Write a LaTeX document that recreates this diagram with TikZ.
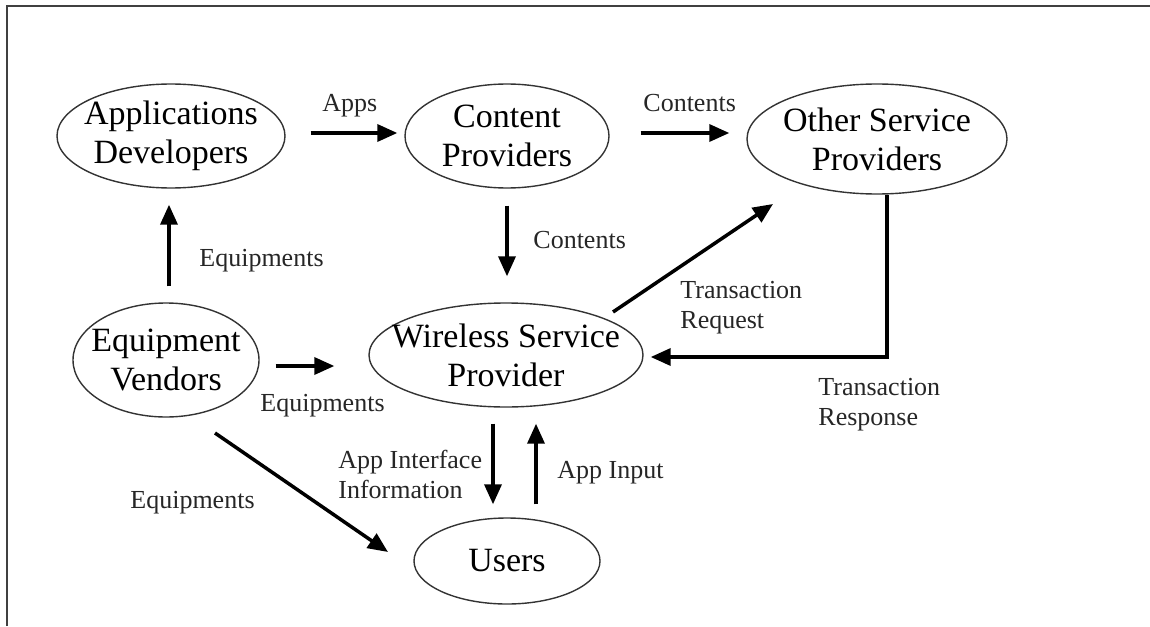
\documentclass[tikz,border=0pt]{standalone}
\usepackage{fontspec}
\setmainfont{Liberation Serif}
\usetikzlibrary{shapes.geometric,arrows.meta,calc}
\begin{document}
\begin{tikzpicture}[x=0.5pt,y=-0.5pt,
  ent/.style={ellipse,draw=black!80,line width=0.7pt,inner sep=0pt,
    label={[inner sep=0pt,align=center,font=\fontsize{17}{19.5}\selectfont]center:#1}},
  lbl/.style={inner sep=0pt,anchor=base west,align=left,text=black!85,font=\fontsize{13}{15}\selectfont},
  arr/.style={line width=1.75pt,-{Triangle[length=10pt,width=8.5pt]}}]
\useasboundingbox (0,0) rectangle (1150,626);
\draw[line width=1pt,black!75] (7,626) -- (7,6) -- (1150,6);

% entities
\node[ent={Applications\\Developers},minimum width=114pt,minimum height=52pt] (ad) at (171,136) {};
\node[ent={Content\\Providers},minimum width=102pt,minimum height=52pt] (cp) at (507,136) {};
\node[ent={Other Service\\Providers},minimum width=130pt,minimum height=55pt] (osp) at (877,139) {};
\node[ent={Equipment\\Vendors},minimum width=93pt,minimum height=57pt] (ev) at (166,360) {};
\node[ent={Wireless Service\\Provider},minimum width=137pt,minimum height=52pt] (wsp) at (506,355) {};
\node[ent={Users},minimum width=93pt,minimum height=43pt] (us) at (507,561) {};

% connectors
\draw[arr,shorten <=12.5pt,shorten >=3.5pt] ([yshift=1.5pt]ad.east) -- ([yshift=1.5pt]cp.west);
\draw[arr,shorten <=15.5pt,shorten >=8.5pt] ([yshift=1.5pt]cp.east) -- ([yshift=1.5pt]cp.east -| osp.west);
\draw[arr,shorten <=8.5pt,shorten >=13pt] (cp.south) -- (cp.south |- wsp.north);
\draw[arr,shorten <=8pt,shorten >=8pt] ([xshift=1.5pt]ev.north) -- ([xshift=1.5pt]ev.north |- ad.south);
\draw[arr,shorten <=8pt,shorten >=17pt] ([yshift=-3pt]ev.east) -- ([yshift=-3pt]ev.east -| wsp.west);
\draw[arr] ($(ev.center)+(49,73)$) -- ($(us.center)+(-119,-9)$);
\draw[arr] ($(wsp.center)+(107,-43)$) -- ($(osp.center)+(-104,65)$);
\draw[arr,shorten >=3.5pt] ([xshift=5pt]osp.south) |- ([yshift=-1pt]wsp.east);
\draw[arr,shorten <=8pt,shorten >=6.5pt] ([xshift=-6.5pt]wsp.south) -- ([xshift=-6.5pt]wsp.south |- us.north);
\draw[arr,shorten <=6.5pt,shorten >=8pt] ([xshift=15pt]wsp.south |- us.north) -- ([xshift=15pt]wsp.south);

% labels
\node[lbl] (l1) at (322,112) {Apps};
\node[lbl] (l2) at (643,112) {Contents};
\node[lbl] (l3) at (533,248) {Contents};
\node[lbl] (l4) at (199,266) {Equipments};
\node[lbl] (l5) at (260,411) {Equipments};
\node[lbl] (l6) at (130,508) {Equipments};
\node[lbl] (l7) at (680,328) {Transaction\\Request};
\node[lbl] (l8) at (818,425) {Transaction\\Response};
\node[lbl] (l9) at (338,498) {App Interface\\Information};
\node[lbl] (l10) at (557,478) {App Input};
\end{tikzpicture}
\end{document}
